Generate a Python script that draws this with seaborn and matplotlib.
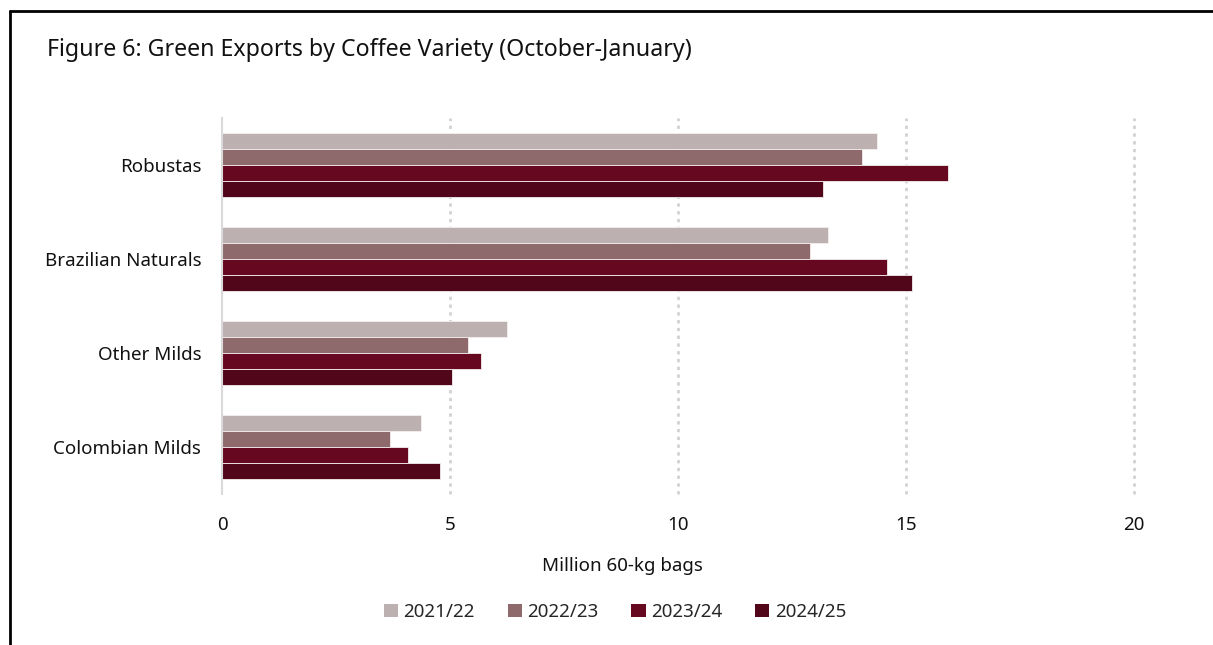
import numpy as np
import pandas as pd
import matplotlib.pyplot as plt
import seaborn as sns
from matplotlib.lines import Line2D
from matplotlib.patches import Patch

sns.set_style("white")
plt.rcParams['font.family'] = ['Noto Sans', 'DejaVu Sans']

# data (million 60-kg bags)
varieties = ['Robustas', 'Brazilian Naturals', 'Other Milds', 'Colombian Milds']
seasons = ['2021/22', '2022/23', '2023/24', '2024/25']
v_2021 = [14.36, 13.30, 6.25, 4.37]
v_2022 = [14.03, 12.90, 5.39, 3.68]
v_2023 = [15.92, 14.59, 5.67, 4.08]
v_2024 = [13.18, 15.13, 5.05, 4.77]
colors = ['#BDB0B0', '#8E6A6D', '#660820', '#52061A']

df = pd.DataFrame({
    'variety': varieties * 4,
    'season': np.repeat(seasons, 4),
    'value': v_2021 + v_2022 + v_2023 + v_2024,
})

fig = plt.figure(figsize=(12.13, 6.45), dpi=100)
ax = fig.add_axes([222 / 1213, 1 - 494 / 645, 912 / 1213, 376 / 645])

sns.barplot(data=df, x='value', y='variety', hue='season', order=varieties,
            hue_order=seasons, palette=colors, saturation=1, orient='h', width=0.69,
            edgecolor='#f4eeee', linewidth=0.6, legend=False, ax=ax)

ax.set_xlim(0, 20)
ax.set_xticks([0, 5, 10, 15, 20])
ax.set_ylim(3.5, -0.5)
for x in [5, 10, 15, 20]:
    ax.axvline(x, color='#d2d2d2', linestyle=(0, (1.2, 1.6)), linewidth=2, zorder=0,
               clip_on=False)
for s in ['top', 'right', 'bottom']:
    ax.spines[s].set_visible(False)
ax.spines['left'].set_color('#d9d9d9')
ax.spines['left'].set_linewidth(1.5)
ax.tick_params(axis='both', length=0, labelsize=13.5, colors='#111111')
ax.tick_params(axis='x', pad=16)
ax.tick_params(axis='y', pad=15)
ax.set_xlabel('')
ax.set_ylabel('')

fig.text(622 / 1213, 1 - 566 / 645, 'Million 60-kg bags', ha='center', va='center',
         fontsize=13.5, color='#111111')
fig.text(47 / 1213, 1 - 50 / 645, 'Figure 6: Green Exports by Coffee Variety (October-January)',
         ha='left', va='center', fontsize=16.7, color='#111111')

handles = [Patch(facecolor=c, edgecolor='none') for c in colors]
fig.legend(handles, seasons, loc='center', bbox_to_anchor=(615 / 1213, 1 - 612 / 645),
           ncol=4, frameon=False, fontsize=13.5, handlelength=0.75, handleheight=0.75,
           handletextpad=0.3, columnspacing=1.75)

# outer frame (top and left edges only)
fig.add_artist(Line2D([10 / 1213, 1], [1 - 11 / 645, 1 - 11 / 645], color='black', linewidth=2,
                      transform=fig.transFigure))
fig.add_artist(Line2D([10 / 1213, 10 / 1213], [0, 1 - 11 / 645], color='black', linewidth=2,
                      transform=fig.transFigure))

plt.savefig('out.png', dpi=100)
